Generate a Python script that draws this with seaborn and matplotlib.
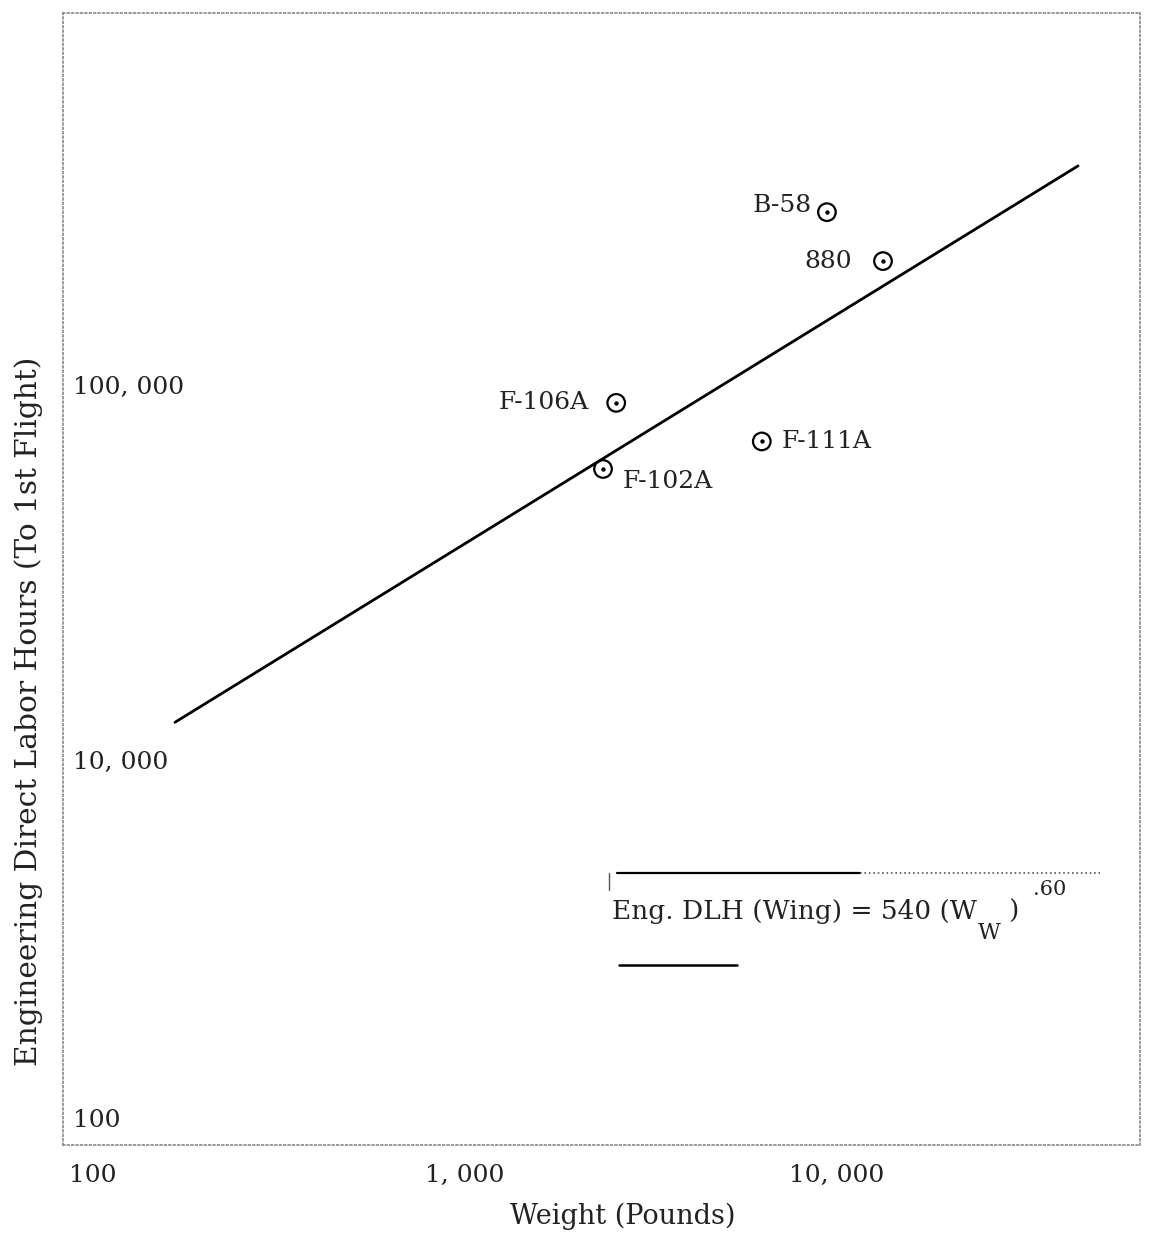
import pandas as pd
import seaborn as sns
import matplotlib.pyplot as plt
from matplotlib.transforms import ScaledTranslation

# aircraft points
aircraft = ["B-58", "880", "F-106A", "F-111A", "F-102A"]
weight_lb = [9400, 13300, 2550, 6280, 2350]
eng_hours = [289000, 214000, 89600, 70700, 59700]

# label offsets in points (dx, dy) and horizontal alignment
label_dx = [-11, -22, -20, 14, 14]
label_dy = [5, 0, 0, 0, -9]
label_ha = ["right", "right", "right", "left", "left"]

# fitted line end points
fit_weight = [166, 44500]
fit_hours = [12600, 384000]

x_ticks = [100, 1000, 10000]
x_tick_labels = ["100", "1, 000", "10, 000"]
y_ticks = [1000, 10000, 100000]
y_tick_labels = ["100", "10, 000", "100, 000"]


def set_config():
    sns.set_theme(style="white")
    plt.rcParams["font.family"] = ["DejaVu Serif", "DejaVu Sans"]


def draw():
    fig = plt.figure(figsize=(11.5, 12.37), dpi=100)
    ax = fig.add_axes([0.0548, 0.0744, 0.9365, 0.9151])
    ink = "#222222"

    pts = pd.DataFrame({"aircraft": aircraft, "weight": weight_lb, "hours": eng_hours})
    fit = pd.DataFrame({"weight": fit_weight, "hours": fit_hours})

    sns.lineplot(data=fit, x="weight", y="hours", color="black", linewidth=2, ax=ax)
    # circle with a dot in the middle
    sns.scatterplot(data=pts, x="weight", y="hours", s=160, facecolor="none",
                    edgecolor="black", linewidth=1.6, ax=ax, zorder=3)
    sns.scatterplot(data=pts, x="weight", y="hours", s=10, color="black",
                    edgecolor="black", linewidth=0, ax=ax, zorder=4)

    for name, w, h, dx, dy, ha in zip(aircraft, weight_lb, eng_hours,
                                      label_dx, label_dy, label_ha):
        ax.annotate(name, (w, h), xytext=(dx, dy), textcoords="offset points",
                    ha=ha, va="center", fontsize=18, color=ink)

    ax.set_xscale("log")
    ax.set_yscale("log")
    ax.set_xlim(83, 65300)
    ax.set_ylim(940, 982000)

    ax.set_xticks(x_ticks)
    ax.set_xticklabels(x_tick_labels, fontsize=18, color=ink)
    ax.set_yticks(y_ticks)
    ax.set_yticklabels(y_tick_labels, fontsize=18, color=ink)
    ax.minorticks_off()
    ax.tick_params(axis="x", length=0, pad=14)
    ax.tick_params(axis="y", length=0, pad=-7)
    for lab in ax.get_yticklabels():
        lab.set_horizontalalignment("left")
    # the bottom label sits a little above its grid line in the original
    bottom = ax.get_yticklabels()[0]
    bottom.set_transform(bottom.get_transform() + ScaledTranslation(0, 0.17, fig.dpi_scale_trans))

    ax.set_xlabel("Weight (Pounds)", fontsize=19.5, color=ink)
    ax.xaxis.set_label_coords(0.52, -0.051)
    ax.set_ylabel("Engineering Direct Labor Hours (To 1st Flight)", fontsize=21.3, color=ink)
    ax.yaxis.set_label_coords(-0.019, 0.383)

    for sp in ax.spines.values():
        sp.set_linestyle(":")
        sp.set_color("#888888")
        sp.set_linewidth(1.2)

    # formula box
    tr = ax.transAxes
    ax.plot([0.514, 0.74], [0.240, 0.240], color="black", lw=1.6, transform=tr)
    ax.plot([0.74, 0.963], [0.240, 0.240], color="#555555", lw=1.2, ls=":", transform=tr)
    ax.plot([0.507, 0.507], [0.240, 0.225], color="#555555", lw=1, transform=tr)
    ax.plot([0.516, 0.626], [0.159, 0.159], color="black", lw=1.8, transform=tr)
    ax.text(0.5097, 0.1996, "Eng. DLH (Wing) = 540 (W", transform=tr,
            fontsize=19, ha="left", va="baseline", color=ink)
    ax.text(0.8496, 0.182, "W", transform=tr, fontsize=16, ha="left", va="baseline", color=ink)
    ax.text(0.8774, 0.1996, ")", transform=tr, fontsize=19, ha="left", va="baseline", color=ink)
    ax.text(0.9006, 0.221, ".60", transform=tr, fontsize=15, ha="left", va="baseline", color=ink)

    fig.savefig("out.png", dpi=100)


def main():
    set_config()
    draw()


if __name__ == "__main__":
    main()
